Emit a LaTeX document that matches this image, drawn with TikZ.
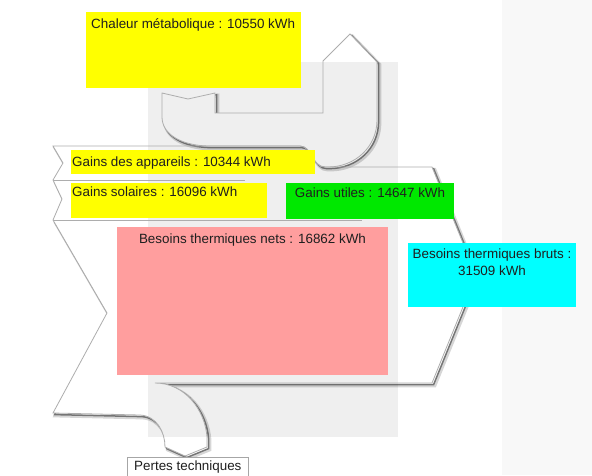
\documentclass[tikz,border=0pt]{standalone}
\usepackage{fontspec}
\setmainfont{Liberation Sans}
\definecolor{bgg}{HTML}{EFEFEF}
\definecolor{panel}{HTML}{F8F8F8}
\definecolor{ylw}{HTML}{FFFF00}
\definecolor{grn}{HTML}{00E800}
\definecolor{pnk}{HTML}{FF9E9E}
\definecolor{cyn}{HTML}{00FFFF}
\begin{document}
\begin{tikzpicture}[x=1pt,y=-1pt,
  outline/.style={draw=black!32, line width=0.8pt, line join=miter},
  shadowA/.style={draw=black, opacity=0.16, line width=3.6pt, shift={(2.6,2.6)}},
  shadowB/.style={draw=black!85, opacity=0.55, line width=1.5pt, shift={(1.6,1.6)}},
  lbl/.style={font=\fontsize{13.4}{16}\selectfont, text=black!88, inner sep=0pt},
  box/.style={inner sep=0pt, outer sep=0pt},
  mainshape/.style={insert path={(53,146) -- (63,163) -- (53,180) -- (62,199) -- (53,220)
     -- (107,313) -- (53,413) -- (140,415) .. controls (157,416) and (165,432) .. (165,447)
     -- (185,456) -- (207,447) -- (207,437) .. controls (205,410) and (185,383) .. (155,383)
     -- (432,383) -- (476,275) -- (432,167) -- (325,167)
     .. controls (312,167) and (312,146) .. (300,146) -- cycle}},
  ushape/.style={insert path={(162,93) -- (188,99) -- (215,93) -- (215,113) -- (323,113)
     -- (323,61) -- (350,34) -- (377,62) -- (377,120)
     .. controls (377,147) and (355,167) .. (328,167) -- (325,167)
     .. controls (312,167) and (312,146) .. (300,146) -- (210,146)
     .. controls (183,146) and (162,135) .. (162,117) -- cycle}}
]
\useasboundingbox (0,0) rectangle (592,475);
% backgrounds
\fill[white] (0,0) rectangle (592,475);
\fill[panel] (502,0) rectangle (592,475);
\fill[bgg] (148,62) rectangle (398,437);
% main shape: shadow, then clear inside
\draw[shadowA, mainshape];
\draw[shadowB, mainshape];
\fill[white, mainshape];
\begin{scope}
  \clip[mainshape];
  \fill[bgg] (148,62) rectangle (398,437);
\end{scope}
% U shape
\draw[shadowA, ushape];
\draw[shadowB, ushape];
\fill[white, ushape];
\begin{scope}
  \clip[ushape];
  \fill[bgg] (148,62) rectangle (398,437);
\end{scope}
% outlines
\draw[outline, mainshape];
\draw[outline, ushape];
\coordinate (s1a) at (53,180);
\coordinate (s1b) at (245,180);
\coordinate (s2a) at (53,220);
\coordinate (s2b) at (362,220);
\draw[outline] (s1a) -- (s1b);
\draw[outline] (s2a) -- (s2b);
% boxes
\node[box, fill=ylw, minimum width=215pt, minimum height=76pt, anchor=north west] (meta) at (86,12) {};
\node[lbl, anchor=base west] (metaT) at (91,28) {Chaleur métabolique : 10550 kWh};
\node[box, fill=ylw, minimum width=244pt, minimum height=24pt, anchor=north west] (app) at (71,150) {};
\node[lbl, anchor=base west] (appT) at (72,166) {Gains des appareils : 10344 kWh};
\node[box, fill=ylw, minimum width=196pt, minimum height=35pt, anchor=north west] (sol) at (71,183) {};
\node[lbl, anchor=base west] (solT) at (72,196) {Gains solaires : 16096 kWh};
\node[box, fill=grn, minimum width=168pt, minimum height=36pt, anchor=north west] (ut) at (286,183) {};
\node[lbl, anchor=base] (utT) at (370,197) {Gains utiles : 14647 kWh};
\node[box, fill=pnk, minimum width=271pt, minimum height=148pt, anchor=north west] (nets) at (117,227) {};
\node[lbl, anchor=base] (netsT) at (252.5,243) {Besoins thermiques nets : 16862 kWh};
\node[box, fill=cyn, minimum width=168pt, minimum height=64pt, anchor=north west] (bruts) at (408,243) {};
\node[lbl, anchor=base] (brutsT1) at (492,258) {Besoins thermiques bruts :};
\node[lbl, anchor=base] (brutsT2) at (492,275) {31509 kWh};
\node[box, fill=white, draw=black!35, line width=0.7pt, minimum width=121pt, minimum height=30pt, anchor=north west] (pert) at (127,457) {};
\node[lbl, anchor=base west] (pertT) at (134,470) {Pertes techniques};
\end{tikzpicture}
\end{document}
